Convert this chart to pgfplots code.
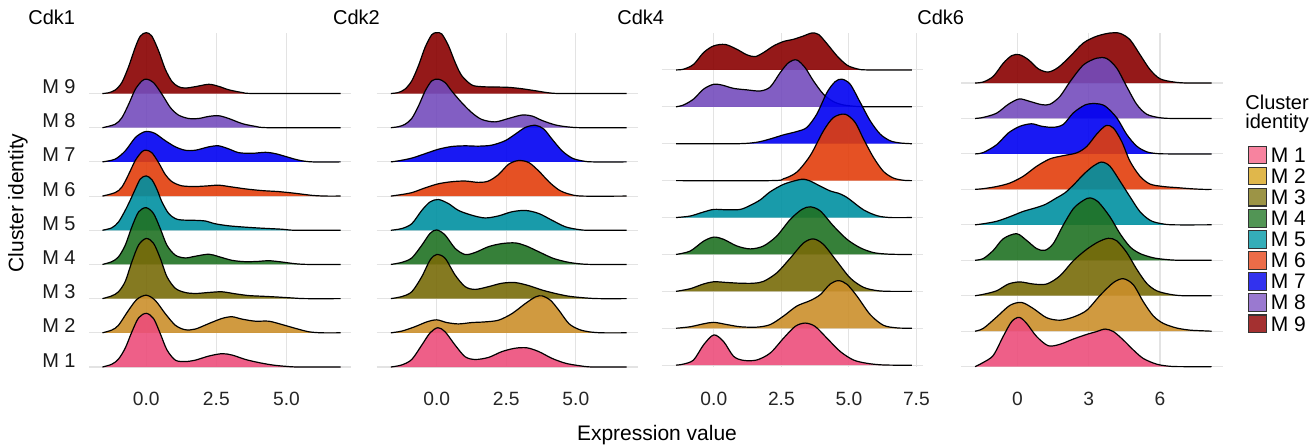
\documentclass[border=0pt]{standalone}
\usepackage{pgfplots}
\pgfplotsset{compat=1.18}
\usepackage{pgfplotstable}
\usepackage{fontspec}
\setmainfont{Liberation Sans}

\definecolor{cA}{HTML}{EC4E7B}
\definecolor{cB}{HTML}{CB8F2B}
\definecolor{cC}{HTML}{786B09}
\definecolor{cD}{HTML}{207223}
\definecolor{cE}{HTML}{0090A1}
\definecolor{cF}{HTML}{E23E0C}
\definecolor{cG}{HTML}{0000F2}
\definecolor{cH}{HTML}{744CBD}
\definecolor{cI}{HTML}{890000}
\definecolor{lA}{HTML}{F7839F}
\definecolor{lB}{HTML}{E0B74B}
\definecolor{lC}{HTML}{9C9446}
\definecolor{lD}{HTML}{529555}
\definecolor{lE}{HTML}{34ADB8}
\definecolor{lF}{HTML}{EC6C48}
\definecolor{lG}{HTML}{3232EE}
\definecolor{lH}{HTML}{9A79D0}
\definecolor{lI}{HTML}{A43030}

% ---------- Cdk1 ----------
\pgfplotstableread{
x h
-1.56 0
-1.23 0.08
-0.99 0.23
-0.75 0.55
-0.51 1.03
-0.27 1.44
0 1.57
0.26 1.42
0.50 0.98
0.74 0.50
1.04 0.20
1.39 0.16
1.75 0.20
2.23 0.32
2.70 0.39
3.06 0.35
3.54 0.22
4.01 0.13
4.49 0.06
4.96 0.02
5.44 0
6.93 0
}\paA
\pgfplotstableread{
x h
-1.56 0
-1.23 0.08
-0.99 0.22
-0.63 0.66
-0.33 0.98
0 1.10
0.32 0.95
0.68 0.56
1.04 0.22
1.39 0.09
1.75 0.11
2.23 0.27
2.70 0.42
3.06 0.47
3.42 0.40
3.89 0.34
4.37 0.34
4.85 0.24
5.32 0.13
5.80 0.03
6.27 0
6.93 0
}\paB
\pgfplotstableread{
x h
-1.56 0
-1.23 0.08
-0.99 0.20
-0.75 0.50
-0.51 1.08
-0.27 1.57
0 1.76
0.26 1.62
0.50 1.18
0.74 0.64
1.04 0.30
1.39 0.18
1.75 0.15
2.23 0.18
2.70 0.20
3.18 0.14
3.65 0.09
4.13 0.07
4.61 0.05
5.20 0.02
5.68 0
6.93 0
}\paC
\pgfplotstableread{
x h
-1.56 0
-1.23 0.08
-0.99 0.22
-0.75 0.56
-0.51 1.10
-0.27 1.54
0 1.66
0.26 1.49
0.50 1.05
0.74 0.56
1.04 0.27
1.39 0.19
1.75 0.24
2.23 0.30
2.58 0.23
3.06 0.12
3.54 0.08
4.01 0.09
4.37 0.11
4.85 0.07
5.32 0.02
5.80 0
6.93 0
}\paD
\pgfplotstableread{
x h
-1.56 0
-1.23 0.07
-0.99 0.24
-0.75 0.58
-0.57 0.88
-0.39 1.20
-0.21 1.50
0 1.59
0.20 1.48
0.38 1.20
0.56 0.83
0.80 0.49
1.04 0.34
1.27 0.30
1.75 0.29
2.11 0.27
2.46 0.19
2.94 0.13
3.54 0.09
4.13 0.06
4.85 0.03
5.32 0
6.93 0
}\paE
\pgfplotstableread{
x h
-1.56 0
-1.11 0.10
-0.87 0.26
-0.63 0.63
-0.39 1.04
-0.15 1.30
0 1.34
0.20 1.27
0.44 0.98
0.68 0.63
0.92 0.42
1.27 0.30
1.75 0.28
2.23 0.30
2.58 0.32
2.94 0.28
3.54 0.21
4.13 0.16
4.73 0.13
5.32 0.08
5.92 0.02
6.39 0
6.93 0
}\paF
\pgfplotstableread{
x h
-1.56 0
-1.11 0.08
-0.75 0.32
-0.39 0.71
-0.10 0.87
0.08 0.89
0.32 0.83
0.68 0.62
1.04 0.44
1.39 0.34
1.75 0.34
2.23 0.44
2.58 0.47
2.94 0.38
3.30 0.27
3.77 0.25
4.25 0.28
4.61 0.24
4.96 0.16
5.44 0.05
5.92 0
6.93 0
}\paG
\pgfplotstableread{
x h
-1.56 0
-1.11 0.10
-0.87 0.29
-0.63 0.68
-0.39 1.12
-0.15 1.37
0.02 1.42
0.26 1.32
0.56 0.98
0.86 0.59
1.15 0.37
1.51 0.27
1.87 0.27
2.23 0.33
2.58 0.35
2.94 0.27
3.42 0.12
3.89 0.04
4.37 0
6.93 0
}\paH
\pgfplotstableread{
x h
-1.56 0
-1.35 0.02
-1.11 0.10
-0.87 0.32
-0.63 0.78
-0.39 1.35
-0.21 1.68
0 1.78
0.20 1.68
0.44 1.25
0.68 0.71
0.92 0.35
1.15 0.20
1.39 0.16
1.75 0.20
2.23 0.27
2.58 0.21
2.94 0.11
3.42 0.03
3.89 0
6.93 0
}\paI

% ---------- Cdk2 ----------
\pgfplotstableread{
x h
-1.65 0
-1.26 0.06
-0.90 0.22
-0.54 0.64
-0.24 1.00
0.04 1.15
0.30 1.03
0.66 0.64
1.02 0.30
1.38 0.22
1.86 0.28
2.34 0.45
2.82 0.55
3.25 0.56
3.67 0.45
4.15 0.25
4.63 0.11
5.11 0.04
5.59 0
6.83 0
}\pbA
\pgfplotstableread{
x h
-1.65 0
-1.26 0.05
-0.78 0.18
-0.36 0.32
0 0.38
0.36 0.30
0.78 0.26
1.26 0.30
1.74 0.32
2.22 0.37
2.70 0.56
3.19 0.86
3.55 1.05
3.79 1.08
4.09 0.95
4.39 0.66
4.75 0.27
5.11 0.10
5.47 0.03
5.95 0
6.83 0
}\pbB
\pgfplotstableread{
x h
-1.65 0
-1.26 0.06
-0.90 0.20
-0.54 0.64
-0.24 1.13
0 1.29
0.30 1.18
0.66 0.69
1.02 0.35
1.38 0.27
1.86 0.35
2.34 0.45
2.82 0.47
3.31 0.38
3.79 0.25
4.27 0.15
4.75 0.07
5.35 0.02
5.83 0
6.83 0
}\pbC
\pgfplotstableread{
x h
-1.65 0
-1.26 0.06
-0.90 0.19
-0.54 0.56
-0.24 0.91
0 1.01
0.30 0.86
0.66 0.47
1.02 0.29
1.38 0.35
1.86 0.52
2.34 0.61
2.82 0.63
3.19 0.55
3.67 0.37
4.15 0.19
4.63 0.08
5.11 0.02
5.59 0
6.83 0
}\pbD
\pgfplotstableread{
x h
-1.65 0
-1.26 0.05
-0.90 0.19
-0.54 0.58
-0.24 0.83
0.06 0.90
0.42 0.78
0.78 0.58
1.26 0.44
1.74 0.36
2.22 0.42
2.70 0.54
3.19 0.58
3.67 0.49
4.15 0.29
4.63 0.10
5.11 0.02
5.47 0
6.83 0
}\pbE
\pgfplotstableread{
x h
-1.65 0
-1.38 0.03
-0.90 0.10
-0.42 0.24
0.06 0.36
0.54 0.42
1.02 0.44
1.50 0.40
1.86 0.44
2.22 0.63
2.58 0.93
2.94 1.04
3.31 0.98
3.67 0.73
4.03 0.42
4.39 0.18
4.75 0.06
5.23 0
6.83 0
}\pbF
\pgfplotstableread{
x h
-1.65 0
-1.38 0.03
-0.90 0.11
-0.42 0.24
0.06 0.37
0.54 0.45
1.02 0.47
1.50 0.46
1.98 0.49
2.46 0.62
2.82 0.81
3.19 1.01
3.55 1.07
3.85 0.96
4.15 0.66
4.51 0.32
4.87 0.11
5.23 0.03
5.59 0
6.83 0
}\pbG
\pgfplotstableread{
x h
-1.65 0
-1.38 0.03
-1.14 0.10
-0.90 0.27
-0.66 0.63
-0.42 1.07
-0.18 1.37
0.06 1.42
0.30 1.32
0.54 1.07
0.90 0.73
1.26 0.44
1.62 0.24
2.10 0.17
2.58 0.27
3.06 0.37
3.43 0.34
3.79 0.21
4.27 0.08
4.75 0.02
5.23 0
6.83 0
}\pbH
\pgfplotstableread{
x h
-1.65 0
-1.38 0.03
-1.14 0.13
-0.90 0.37
-0.66 0.81
-0.42 1.35
-0.18 1.72
0 1.78
0.18 1.74
0.42 1.40
0.66 0.91
0.90 0.52
1.26 0.25
1.62 0.20
2.10 0.19
2.58 0.18
3.06 0.14
3.55 0.08
4.03 0.02
4.51 0
6.83 0
}\pbI

% ---------- Cdk4 ----------
\pgfplotstableread{
x h
-1.40 0
-1.12 0.03
-0.75 0.14
-0.38 0.55
0 0.82
0.36 0.64
0.73 0.24
1.10 0.13
1.59 0.14
2.09 0.33
2.58 0.73
3.01 1.05
3.38 1.14
3.75 1.05
4.19 0.73
4.68 0.37
5.17 0.14
5.67 0.05
6.16 0.01
6.65 0
7.33 0
}\pcA
\pgfplotstableread{
x h
-1.40 0
-0.88 0.04
-0.38 0.12
0 0.16
0.48 0.10
0.98 0.04
1.59 0.03
2.09 0.10
2.58 0.33
3.07 0.60
3.57 0.75
3.94 0.91
4.31 1.20
4.62 1.29
4.93 1.19
5.30 0.87
5.79 0.37
6.28 0.08
6.78 0.01
7.27 0
7.33 0
}\pcB
\pgfplotstableread{
x h
-1.40 0
-0.88 0.07
-0.38 0.20
0 0.26
0.48 0.24
0.98 0.22
1.47 0.22
1.84 0.27
2.33 0.50
2.83 0.90
3.32 1.31
3.69 1.42
4.06 1.27
4.56 0.81
5.05 0.36
5.54 0.11
6.04 0.02
6.53 0
7.33 0
}\pcC
\pgfplotstableread{
x h
-1.40 0
-0.88 0.09
-0.38 0.36
0 0.47
0.36 0.41
0.85 0.23
1.35 0.15
1.84 0.23
2.33 0.50
2.83 0.95
3.26 1.22
3.57 1.29
3.94 1.18
4.43 0.77
4.93 0.41
5.42 0.18
5.91 0.05
6.41 0.01
6.90 0
7.33 0
}\pcD
\pgfplotstableread{
x h
-1.40 0
-0.88 0.04
-0.38 0.15
0 0.22
0.48 0.21
0.98 0.22
1.35 0.33
1.72 0.48
2.09 0.70
2.58 0.90
3.07 1.01
3.32 1.04
3.57 0.99
3.81 0.90
4.31 0.72
4.61 0.66
4.85 0.58
5.05 0.48
5.54 0.21
6.04 0.05
6.53 0
7.33 0
}\pcE
\pgfplotstableread{
x h
-1.40 0
2.09 0
2.58 0.05
3.07 0.23
3.57 0.68
4.06 1.35
4.43 1.71
4.86 1.80
5.23 1.58
5.54 1.13
5.91 0.63
6.28 0.25
6.65 0.07
7.02 0.01
7.33 0
}\pcF
\pgfplotstableread{
x h
-1.40 0
0.85 0
1.59 0.04
2.09 0.13
2.58 0.24
3.07 0.33
3.44 0.44
3.81 0.80
4.19 1.39
4.49 1.68
4.74 1.75
5.05 1.61
5.42 1.12
5.79 0.62
6.16 0.26
6.53 0.08
6.90 0.02
7.33 0
}\pcG
\pgfplotstableread{
x h
-1.40 0
-1.12 0.05
-0.75 0.21
-0.38 0.48
-0.01 0.61
0.30 0.59
0.73 0.50
1.22 0.46
1.72 0.43
2.09 0.54
2.46 0.93
2.77 1.20
3.07 1.27
3.38 1.06
3.69 0.70
4.06 0.34
4.43 0.14
4.80 0.05
5.30 0.01
5.79 0
7.33 0
}\pcH
\pgfplotstableread{
x h
-1.40 0
-1.12 0.02
-0.75 0.15
-0.38 0.47
-0.01 0.65
0.42 0.69
0.85 0.56
1.22 0.41
1.53 0.36
1.84 0.47
2.21 0.65
2.58 0.77
2.95 0.83
3.32 0.92
3.63 1.00
3.88 0.96
4.19 0.71
4.56 0.38
4.93 0.13
5.30 0.03
5.67 0
7.33 0
}\pcI

% ---------- Cdk6 ----------
\pgfplotstableread{
x h
-1.78 0
-1.43 0.12
-1.01 0.32
-0.59 0.86
-0.24 1.27
0.08 1.39
0.39 1.22
0.81 0.85
1.30 0.59
1.79 0.63
2.36 0.78
2.92 0.91
3.34 0.99
3.69 1.06
4.04 0.99
4.46 0.75
4.88 0.47
5.30 0.23
5.86 0.07
6.42 0.01
6.98 0
8.17 0
}\pdA
\pgfplotstableread{
x h
-1.78 0
-1.43 0.08
-0.87 0.40
-0.31 0.73
0.18 0.81
0.67 0.64
1.23 0.38
1.79 0.31
2.36 0.40
2.92 0.59
3.48 1.01
4.04 1.37
4.46 1.48
4.88 1.31
5.30 0.83
5.72 0.43
6.14 0.22
6.70 0.09
7.26 0.03
7.83 0.01
8.17 0
}\pdB
\pgfplotstableread{
x h
-1.78 0
-1.43 0.04
-0.87 0.14
-0.38 0.33
0.11 0.39
0.67 0.33
1.23 0.33
1.79 0.56
2.36 0.99
2.92 1.31
3.41 1.52
3.83 1.62
4.18 1.55
4.60 1.22
5.02 0.75
5.44 0.35
5.86 0.14
6.42 0.04
6.98 0
8.17 0
}\pdC
\pgfplotstableread{
x h
-1.78 0
-1.43 0.05
-1.01 0.28
-0.59 0.61
-0.03 0.75
0.39 0.56
0.81 0.33
1.16 0.28
1.51 0.47
1.93 0.99
2.36 1.46
2.78 1.69
3.06 1.76
3.41 1.64
3.90 1.22
4.32 0.75
4.74 0.38
5.16 0.19
5.72 0.07
6.28 0.02
6.84 0
8.17 0
}\pdD
\pgfplotstableread{
x h
-1.78 0
-1.43 0.03
-0.87 0.10
-0.31 0.23
0.25 0.38
0.67 0.46
1.16 0.57
1.65 0.76
2.00 0.90
2.40 1.15
2.78 1.42
3.20 1.66
3.55 1.77
3.90 1.65
4.32 1.23
4.74 0.79
5.16 0.37
5.58 0.13
6.00 0.04
6.56 0
8.17 0
}\pdE
\pgfplotstableread{
x h
-1.78 0
-1.43 0.02
-0.87 0.08
-0.31 0.18
0.25 0.37
0.81 0.65
1.37 0.86
1.93 0.95
2.50 1.03
2.92 1.21
3.34 1.56
3.73 1.80
4.04 1.73
4.39 1.35
4.74 0.79
5.16 0.37
5.58 0.15
6.14 0.08
6.70 0.05
7.26 0.02
7.82 0
8.17 0
}\pdF
\pgfplotstableread{
x h
-1.78 0
-1.43 0.04
-0.87 0.26
-0.38 0.59
0.11 0.78
0.60 0.85
1.02 0.78
1.51 0.75
1.93 0.83
2.36 1.16
2.85 1.38
3.27 1.42
3.69 1.35
4.18 1.02
4.60 0.55
5.02 0.22
5.44 0.06
5.86 0.01
6.42 0
8.17 0
}\pdG
\pgfplotstableread{
x h
-1.78 0
-1.43 0.03
-0.87 0.15
-0.38 0.40
0.08 0.55
0.53 0.48
1.02 0.39
1.37 0.40
1.79 0.62
2.22 1.04
2.78 1.51
3.34 1.70
3.76 1.69
4.18 1.42
4.60 0.90
5.02 0.40
5.44 0.12
6.00 0.02
6.56 0
8.17 0
}\pdH
\pgfplotstableread{
x h
-1.78 0
-1.43 0.03
-1.01 0.19
-0.59 0.56
-0.24 0.77
0.08 0.80
0.46 0.66
0.88 0.40
1.30 0.31
1.72 0.44
2.22 0.75
2.78 1.13
3.34 1.32
3.90 1.41
4.32 1.40
4.74 1.22
5.16 0.80
5.58 0.38
6.00 0.12
6.56 0.03
7.12 0
8.17 0
}\pdI

\newcommand{\ridge}[3]{%
  \addplot[forget plot, draw=none, fill=#3, fill opacity=0.9, smooth] table[x=x, y expr=\thisrow{h}+#2] {#1} -- cycle;
  \addplot[forget plot, draw=black, line width=0.6pt, smooth] table[x=x, y expr=\thisrow{h}+#2] {#1};
}
\newcommand{\fT}{\fontsize{9.6}{11}\selectfont}
\newcommand{\fY}{\fontsize{10}{12}\selectfont}
\newcommand{\fL}{\fontsize{10.5}{12.6}\selectfont}

\pgfplotsset{
  ridgeaxis/.style={
    anchor=south west, scale only axis, width=130.85pt, height=167pt,
    clip=false,
    axis line style={draw=none},
    major tick length=0pt,
    ytick={0,1,2,3,4,5,6,7,8},
    grid=major,
    major grid style={color=black!11, line width=0.55pt},
    xticklabel style={font=\fT, text=black!85, inner sep=0pt, anchor=north, yshift=-12.5pt},
    yticklabel style={font=\fY, text=black!90, inner sep=0pt, anchor=base east, xshift=-6.5pt},
    /pgf/number format/assume math mode=true,
  }
}

\begin{document}
\begin{tikzpicture}
\path[use as bounding box] (0pt,0pt) rectangle (657.5pt,222.5pt);

% Panel 1
\begin{axis}[ridgeaxis, at={(44.5pt,39pt)},
  xmin=-2.04, xmax=7.29, ymin=0, ymax=9.77,
  xtick={0,2.5,5}, xticklabels={0.0,2.5,5.0},
  yticklabels={M 1,M 2,M 3,M 4,M 5,M 6,M 7,M 8,M 9}]
\ridge{\paI}{8}{cI}
\ridge{\paH}{7}{cH}
\ridge{\paG}{6}{cG}
\ridge{\paF}{5}{cF}
\ridge{\paE}{4}{cE}
\ridge{\paD}{3}{cD}
\ridge{\paC}{2}{cC}
\ridge{\paB}{1}{cB}
\ridge{\paA}{0}{cA}
\end{axis}

% Panel 2
\begin{axis}[ridgeaxis, at={(188.35pt,39pt)},
  xmin=-2.16, xmax=7.25, ymin=0, ymax=9.77,
  xtick={0,2.5,5}, xticklabels={0.0,2.5,5.0},
  yticklabels={}]
\ridge{\pbI}{8}{cI}
\ridge{\pbH}{7}{cH}
\ridge{\pbG}{6}{cG}
\ridge{\pbF}{5}{cF}
\ridge{\pbE}{4}{cE}
\ridge{\pbD}{3}{cD}
\ridge{\pbC}{2}{cC}
\ridge{\pbB}{1}{cB}
\ridge{\pbA}{0}{cA}
\end{axis}

% Panel 3
\begin{axis}[ridgeaxis, at={(330.85pt,39pt)},
  xmin=-1.93, xmax=7.76, ymin=-0.05, ymax=9.0,
  xtick={0,2.5,5,7.5}, xticklabels={0.0,2.5,5.0,7.5},
  yticklabels={}]
\ridge{\pcI}{8}{cI}
\ridge{\pcH}{7}{cH}
\ridge{\pcG}{6}{cG}
\ridge{\pcF}{5}{cF}
\ridge{\pcE}{4}{cE}
\ridge{\pcD}{3}{cD}
\ridge{\pcC}{2}{cC}
\ridge{\pcB}{1}{cB}
\ridge{\pcA}{0}{cA}
\end{axis}

% Panel 4
\begin{axis}[ridgeaxis, at={(480.5pt,39pt)},
  xmin=-2.37, xmax=8.64, ymin=-0.01, ymax=9.41,
  xtick={0,3,6}, xticklabels={0,3,6},
  yticklabels={},
  legend image code/.code={\draw[#1] (0pt,-3.755pt) rectangle (8.85pt,5.095pt);},
  legend cell align=left,
  legend style={at={(1.0967,0.663)}, anchor=north west, draw=none, fill=none,
    inner sep=0pt, outer sep=0pt, row sep=0pt, column sep=2pt,
    font=\fL,
    nodes={inner sep=0pt, text height=8.1pt, text depth=2.275pt, anchor=west}}]
\ridge{\pdI}{8}{cI}
\ridge{\pdH}{7}{cH}
\ridge{\pdG}{6}{cG}
\ridge{\pdF}{5}{cF}
\ridge{\pdE}{4}{cE}
\ridge{\pdD}{3}{cD}
\ridge{\pdC}{2}{cC}
\ridge{\pdB}{1}{cB}
\ridge{\pdA}{0}{cA}
\addlegendimage{fill=lA, draw=black!80, line width=0.55pt}\addlegendentry{M 1}
\addlegendimage{fill=lB, draw=black!80, line width=0.55pt}\addlegendentry{M 2}
\addlegendimage{fill=lC, draw=black!80, line width=0.55pt}\addlegendentry{M 3}
\addlegendimage{fill=lD, draw=black!80, line width=0.55pt}\addlegendentry{M 4}
\addlegendimage{fill=lE, draw=black!80, line width=0.55pt}\addlegendentry{M 5}
\addlegendimage{fill=lF, draw=black!80, line width=0.55pt}\addlegendentry{M 6}
\addlegendimage{fill=lG, draw=black!80, line width=0.55pt}\addlegendentry{M 7}
\addlegendimage{fill=lH, draw=black!80, line width=0.55pt}\addlegendentry{M 8}
\addlegendimage{fill=lI, draw=black!80, line width=0.55pt}\addlegendentry{M 9}
\end{axis}

% titles and labels
\node[anchor=base west, inner sep=0pt, font=\fY] at (14pt,210pt) {Cdk1};
\node[anchor=base west, inner sep=0pt, font=\fY] at (166.35pt,210pt) {Cdk2};
\node[anchor=base west, inner sep=0pt, font=\fY] at (308.5pt,210pt) {Cdk4};
\node[anchor=base west, inner sep=0pt, font=\fY] at (458.5pt,210pt) {Cdk6};
\node[anchor=base, inner sep=0pt, font=\fL] at (328.5pt,2.2pt) {Expression value};
\node[anchor=base, rotate=90, inner sep=0pt, font=\fL] at (11.65pt,121pt) {Cluster identity};
\node[anchor=base west, inner sep=0pt, font=\fY] at (622.5pt,167.85pt) {Cluster};
\node[anchor=base west, inner sep=0pt, font=\fY] at (622.5pt,158.35pt) {identity};
\end{tikzpicture}
\end{document}
